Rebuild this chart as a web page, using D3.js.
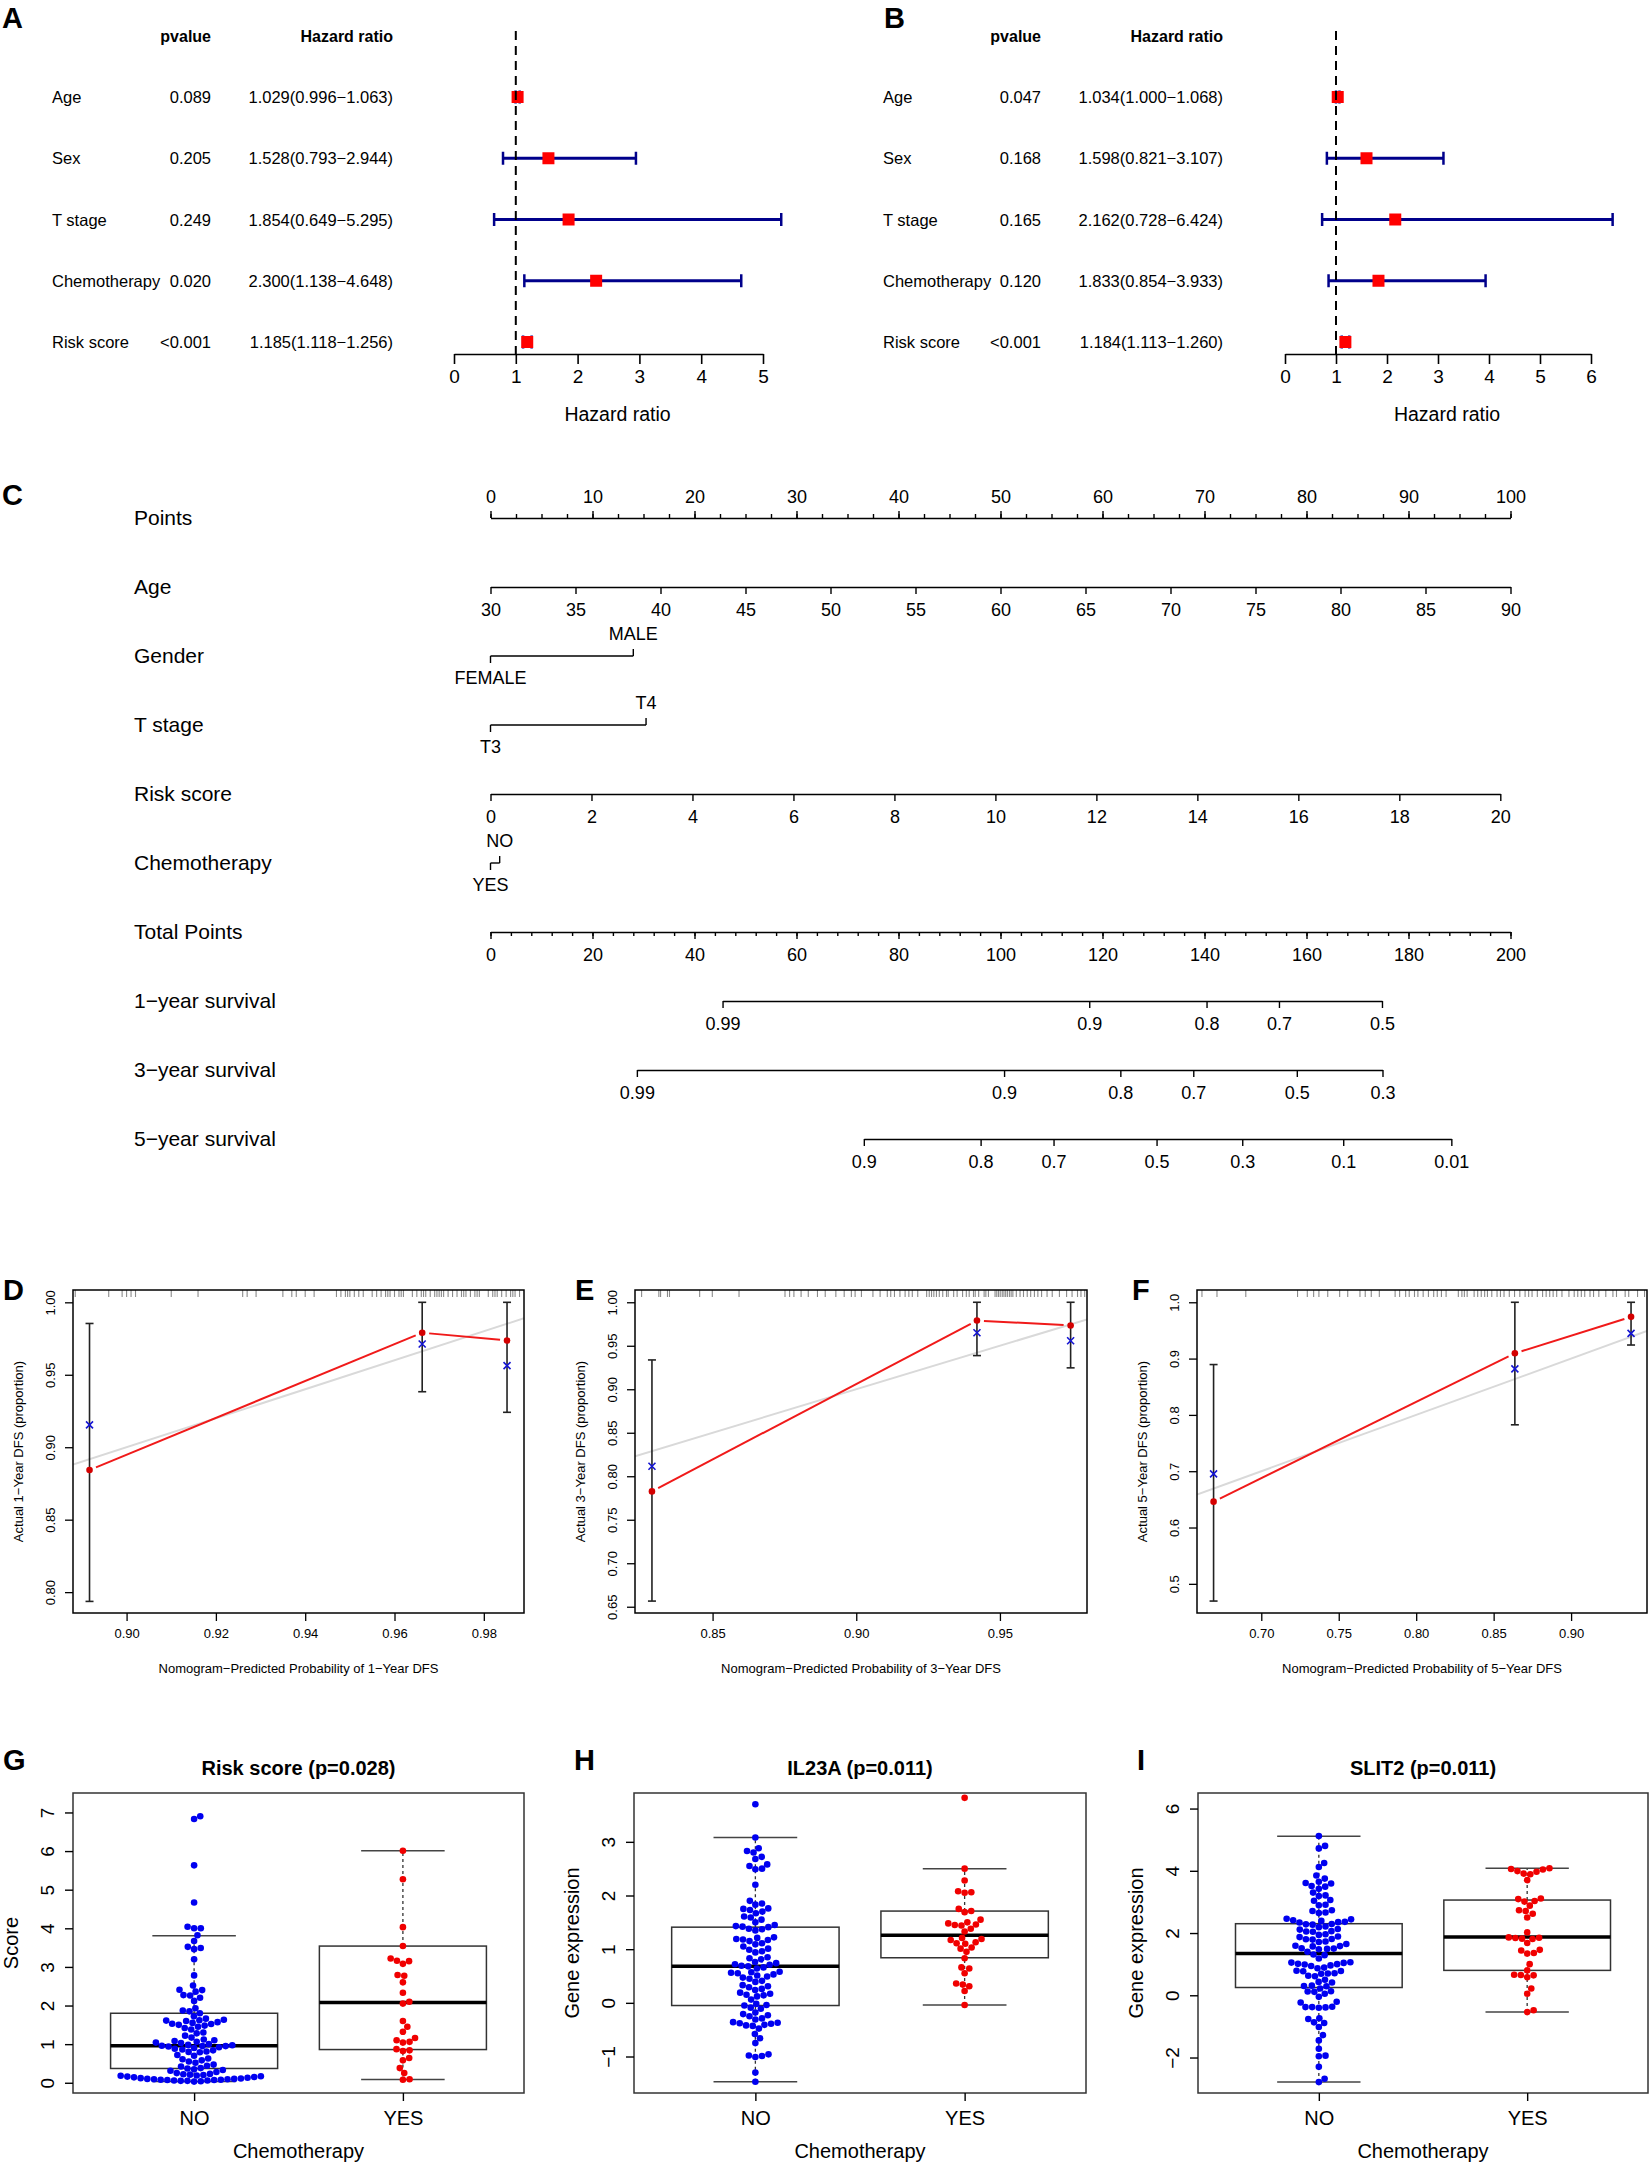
<!DOCTYPE html>
<html>
<head>
<meta charset="utf-8">
<script src="https://cdn.jsdelivr.net/npm/d3@7"></script>
<style>
body { margin: 0; background: #fff; }
svg { display: block; font-family: "Liberation Sans", Arial, Helvetica, sans-serif; }
</style>
</head>
<body>
<svg id="fig" width="1650" height="2169"></svg>
<script>
// ---------- A / B : forest plots ----------
const forestVars = ["Age", "Sex", "T stage", "Chemotherapy", "Risk score"];
const uniP  = ["0.089", "0.205", "0.249", "0.020", "<0.001"];
const uniHR = [1.029, 1.528, 1.854, 2.300, 1.185];
const uniLo = [0.996, 0.793, 0.649, 1.138, 1.118];
const uniHi = [1.063, 2.944, 5.295, 4.648, 1.256];
const multiP  = ["0.047", "0.168", "0.165", "0.120", "<0.001"];
const multiHR = [1.034, 1.598, 2.162, 1.833, 1.184];
const multiLo = [1.000, 0.821, 0.728, 0.854, 1.113];
const multiHi = [1.068, 3.107, 6.424, 3.933, 1.260];

// ---------- C : nomogram ----------
const nomRows = ["Points", "Age", "Gender", "T stage", "Risk score", "Chemotherapy",
  "Total Points", "1\u2212year survival", "3\u2212year survival", "5\u2212year survival"];
const pointTicks = d3.range(0, 101, 10);
const ageTicks = d3.range(30, 91, 5);
const ageRange = [30, 90], agePts = [0, 100];
const riskTicks = d3.range(0, 21, 2);
const riskRange = [0, 20], riskPts = [0, 99.0];
const genderLevels = ["FEMALE", "MALE"], genderPts = [0, 14.0];
const tLevels = ["T3", "T4"], tPts = [0, 15.25];
const chemoLevels = ["YES", "NO"], chemoPts = [0, 0.9];
const totalTicks = d3.range(0, 201, 20);
const surv1Labels = ["0.99", "0.9", "0.8", "0.7", "0.5"];
const surv1Pts = [45.5, 117.4, 140.4, 154.6, 174.8];
const surv3Labels = ["0.99", "0.9", "0.8", "0.7", "0.5", "0.3"];
const surv3Pts = [28.7, 100.7, 123.5, 137.8, 158.1, 174.9];
const surv5Labels = ["0.9", "0.8", "0.7", "0.5", "0.3", "0.1", "0.01"];
const surv5Pts = [73.2, 96.1, 110.4, 130.6, 147.4, 167.2, 188.4];

// ---------- D / E / F : calibration ----------
const cal1Pred = [0.8917, 0.9662, 0.9852];
const cal1Obs  = [0.8843, 0.9790, 0.9737];
const cal1Cor  = [0.9154, 0.9712, 0.9563];
const cal1Lo   = [0.7936, 0.9383, 0.9241];
const cal1Hi   = [0.9854, 1.0, 1.0];
const cal1Rug  = [0.8885,0.896,0.899,0.900,0.901,0.902,0.910,0.916,0.926,0.927,0.929,0.935,0.937,0.938,0.940,0.942,
  0.947,0.948,0.949,0.9495,0.950,0.951,0.952,0.953,0.955,0.956,0.957,0.958,0.9585,0.959,0.960,0.961,0.9615,0.962,
  0.964,0.965,0.966,0.9665,0.967,0.968,0.969,0.9695,0.970,0.9705,0.971,0.972,0.973,0.974,0.975,0.9755,0.976,0.977,
  0.978,0.9785,0.979,0.981,0.982,0.9825,0.983,0.984,0.985,0.986,0.9865,0.987,0.988];
const cal3Pred = [0.8289, 0.9420, 0.9746];
const cal3Obs  = [0.7826, 0.9790, 0.9733];
const cal3Cor  = [0.8115, 0.9650, 0.9558];
const cal3Lo   = [0.6565, 0.9387, 0.9246];
const cal3Hi   = [0.9337, 1.0, 1.0];
const cal3Rug  = [0.8253,0.8313,0.8319,0.8343,0.8350,0.8455,0.8499,0.8592,0.8752,0.8768,0.8783,0.8808,0.8833,0.8865,
  0.8892,0.8929,0.8958,0.8983,0.8996,0.9018,0.9058,0.9083,0.9108,0.9120,0.9133,0.9152,0.9170,0.9183,0.9195,0.9214,
  0.9245,0.9254,0.9262,0.9270,0.9279,0.9289,0.9301,0.9314,0.9320,0.9339,0.9351,0.9370,0.9383,0.9393,0.9408,0.9414,
  0.9426,0.9445,0.9451,0.9460,0.9483,0.9489,0.9495,0.9501,0.9508,0.9514,0.9520,0.9526,0.9533,0.9539,0.9545,0.9557,
  0.9570,0.9582,0.9595,0.9607,0.9620,0.9632,0.9645,0.9664,0.9682,0.9707,0.9732,0.9751,0.9770,0.9782,0.9795];
const cal5Pred = [0.6692, 0.8637, 0.9387];
const cal5Obs  = [0.6459, 0.9094, 0.9741];
const cal5Cor  = [0.6953, 0.8818, 0.9447];
const cal5Lo   = [0.4694, 0.7824, 0.9241];
const cal5Hi   = [0.8894, 1.0, 1.0];
const cal5Rug  = [0.6617,0.6714,0.6900,0.7234,0.7297,0.7338,0.7372,0.7429,0.7506,0.7558,0.7637,0.7671,0.7710,0.7762,
  0.7864,0.7893,0.7932,0.7955,0.7989,0.8011,0.8045,0.8079,0.8113,0.8136,0.8163,0.8193,0.8272,0.8295,0.8311,0.8329,
  0.8374,0.8397,0.8420,0.8442,0.8460,0.8488,0.8522,0.8544,0.8567,0.8601,0.8635,0.8669,0.8703,0.8726,0.8748,0.8782,
  0.8816,0.8839,0.8862,0.8884,0.8907,0.8941,0.8986,0.9020,0.9043,0.9066,0.9088,0.9122,0.9145,0.9179,0.9224,0.9270,
  0.9293,0.9349,0.9372,0.9429,0.9474];

// ---------- G / H / I : box + beeswarm ----------
const groups = ["NO", "YES"];
// stats = [lower whisker, Q1, median, Q3, upper whisker]
const riskNo = [6.90,6.83,5.63,4.67,4.04,4.00,4.00,3.82,3.67,3.52,3.49,3.46,3.20,2.78,2.52,2.41,2.40,2.36,2.27,2.26,
  2.20,2.12,1.93,1.87,1.85,1.80,1.72,1.66,1.63,1.62,1.61,1.60,1.57,1.55,1.53,1.52,1.50,1.48,1.45,1.42,1.38,1.30,1.28,
  1.22,1.17,1.12,1.10,1.08,1.06,1.04,1.03,1.00,0.98,0.97,0.96,0.95,0.95,0.94,0.92,0.90,0.88,0.86,0.84,0.81,0.80,0.79,
  0.72,0.70,0.63,0.61,0.58,0.55,0.52,0.47,0.44,0.42,0.38,0.37,0.35,0.33,0.31,0.28,0.25,0.23,0.22,0.21,0.20,0.19,0.18,
  0.17,0.16,0.15,0.14,0.13,0.12,0.11,0.10,0.10,0.09,0.09,0.08,0.08,0.07,0.07,0.06,0.06,0.05,0.05,0.04,0.03];
const riskYes = [6.01,5.27,4.03,3.54,3.22,3.16,3.15,3.08,2.79,2.77,2.60,2.33,2.10,2.05,1.60,1.45,1.32,1.16,1.10,1.06,
  1.04,0.87,0.84,0.82,0.64,0.58,0.38,0.25,0.09,0.08];
const riskNoStats = [0.03, 0.37, 0.96, 1.80, 3.81];
const riskYesStats = [0.085, 0.86, 2.08, 3.54, 6.01];

const il23No = [3.70,3.08,2.88,2.83,2.80,2.72,2.68,2.58,2.55,2.50,2.49,2.20,1.90,1.85,1.83,1.76,1.75,1.73,1.70,1.67,
  1.61,1.59,1.55,1.50,1.45,1.43,1.42,1.41,1.38,1.37,1.35,1.22,1.21,1.19,1.18,1.17,1.15,1.11,1.09,1.05,1.01,0.99,0.96,
  0.94,0.85,0.83,0.81,0.76,0.74,0.72,0.71,0.69,0.68,0.66,0.64,0.58,0.57,0.56,0.55,0.53,0.51,0.49,0.47,0.45,0.41,0.39,
  0.33,0.31,0.29,0.26,0.24,0.19,0.17,0.15,0.14,0.12,0.06,-0.02,-0.04,-0.05,-0.09,-0.11,-0.18,-0.21,-0.23,-0.25,-0.29,
  -0.31,-0.36,-0.37,-0.38,-0.39,-0.41,-0.42,-0.43,-0.48,-0.58,-0.66,-0.75,-0.96,-0.98,-0.99,-1.01,-1.30,-1.47];
const il23Yes = [3.82,2.50,2.28,2.08,2.06,2.05,1.75,1.71,1.69,1.55,1.50,1.48,1.46,1.45,1.44,1.38,1.33,1.21,1.19,1.17,
  1.13,1.11,1.10,1.03,1.01,0.95,0.83,0.66,0.64,0.55,0.36,0.34,0.31,0.22,-0.04];
const il23NoStats = [-1.47, -0.05, 0.68, 1.41, 3.08];
const il23YesStats = [-0.04, 0.84, 1.26, 1.71, 2.50];

const slitNo = [5.12,4.80,4.72,4.25,4.12,3.85,3.75,3.65,3.61,3.59,3.51,3.49,3.42,3.30,3.21,3.19,3.06,3.04,2.91,2.89,
  2.73,2.71,2.66,2.64,2.46,2.44,2.41,2.39,2.36,2.35,2.34,2.29,2.28,2.27,2.21,2.19,2.13,2.11,2.06,2.05,2.04,1.96,1.94,
  1.89,1.87,1.81,1.80,1.79,1.73,1.71,1.65,1.59,1.58,1.57,1.51,1.50,1.49,1.48,1.40,1.31,1.29,1.18,1.06,1.05,1.04,1.01,
  1.00,0.99,0.96,0.94,0.89,0.87,0.79,0.78,0.77,0.71,0.70,0.69,0.63,0.61,0.50,0.43,0.41,0.31,0.30,0.29,0.22,0.13,0.12,
  0.11,0.05,-0.05,-0.21,-0.23,-0.37,-0.38,-0.38,-0.39,-0.40,-0.74,-0.76,-0.87,-0.89,-1.02,-1.28,-1.45,-1.72,-1.94,
  -1.96,-2.30,-2.68,-2.79];
const slitYes = [4.08,4.06,4.04,3.99,3.97,3.91,3.89,3.70,3.11,3.09,3.03,3.01,2.88,2.73,2.71,2.62,2.50,2.02,1.86,1.85,
  1.84,1.82,1.81,1.68,1.46,1.44,1.36,1.34,1.00,0.80,0.66,0.65,0.64,0.58,0.22,0.05,-0.48,-0.54];
const slitNoStats = [-2.79, 0.25, 1.34, 2.30, 5.11];
const slitYesStats = [-0.54, 0.80, 1.87, 3.06, 4.08];

// ================= drawing =================
const svg = d3.select("#fig");
svg.append("rect").attr("width", 1650).attr("height", 2169).attr("fill", "#fff");
const MINUS = "\u2212";

function letter(x, y, t) {
  svg.append("text").attr("x", x).attr("y", y).attr("font-size", 29)
    .attr("font-weight", "bold").text(t);
}

function styleAxis(sel, fs, sw) {
  sel.attr("font-size", fs).attr("font-family", null);
  sel.selectAll("line,path").attr("stroke", "#000").attr("stroke-width", sw || 1.4);
  sel.selectAll("text").attr("fill", "#000");
  return sel;
}

// ---- forest ----
function forest(c) {
  const g = svg.append("g");
  const x = d3.scaleLinear().domain([0, c.max]).range(c.range);
  const y = d3.scalePoint().domain(forestVars).range([97, 342]);
  const f3 = d3.format(".3f");
  letter(c.lx, 28, c.letter);

  g.append("text").attr("x", c.pR).attr("y", 36).attr("text-anchor", "end")
    .attr("dominant-baseline", "central").attr("font-size", 16).attr("font-weight", "bold").text("pvalue");
  g.append("text").attr("x", c.hrR).attr("y", 36).attr("text-anchor", "end")
    .attr("dominant-baseline", "central").attr("font-size", 16).attr("font-weight", "bold").text("Hazard ratio");

  const rows = g.selectAll("g.row")
    .data(forestVars.map((v, i) => ({ v, p: c.p[i], hr: c.hr[i], lo: c.lo[i], hi: c.hi[i] })))
    .join("g").attr("class", "row").attr("transform", d => `translate(0,${y(d.v)})`);
  rows.append("text").attr("x", c.labX).attr("dominant-baseline", "central").attr("font-size", 16.5).text(d => d.v);
  rows.append("text").attr("x", c.pR).attr("text-anchor", "end").attr("dominant-baseline", "central")
    .attr("font-size", 16.5).text(d => d.p);
  rows.append("text").attr("x", c.hrR).attr("text-anchor", "end").attr("dominant-baseline", "central")
    .attr("font-size", 16.5).text(d => `${f3(d.hr)}(${f3(d.lo)}${MINUS}${f3(d.hi)})`);

  g.append("line").attr("x1", x(1)).attr("x2", x(1)).attr("y1", 31).attr("y2", 354)
    .attr("stroke", "#000").attr("stroke-width", 2).attr("stroke-dasharray", "9,6");

  rows.append("line").attr("x1", d => x(d.lo)).attr("x2", d => x(d.hi))
    .attr("stroke", "#00008b").attr("stroke-width", 3);
  ["lo", "hi"].forEach(k => {
    rows.append("line").attr("x1", d => x(d[k])).attr("x2", d => x(d[k])).attr("y1", -6.5).attr("y2", 6.5)
      .attr("stroke", "#00008b").attr("stroke-width", 2.5);
  });
  rows.append("rect").attr("x", d => x(d.hr) - 6).attr("y", -6).attr("width", 12).attr("height", 12)
    .attr("fill", "#ff0000");

  const ax = g.append("g").attr("transform", "translate(0,354)")
    .call(d3.axisBottom(x).tickValues(d3.range(0, c.max + 1)).tickSize(10).tickSizeOuter(0)
      .tickPadding(6).tickFormat(d3.format("d")));
  styleAxis(ax, 19, 1.6);
  g.append("text").attr("x", (c.range[0] + c.range[1]) / 2 + 9).attr("y", 414)
    .attr("text-anchor", "middle").attr("dominant-baseline", "central").attr("font-size", 19.5).text("Hazard ratio");
}

forest({ letter: "A", lx: 2, labX: 52, pR: 211, hrR: 393, max: 5, range: [454, 763],
  p: uniP, hr: uniHR, lo: uniLo, hi: uniHi });
forest({ letter: "B", lx: 884, labX: 883, pR: 1041, hrR: 1223, max: 6, range: [1285, 1591],
  p: multiP, hr: multiHR, lo: multiLo, hi: multiHi });

// ---- nomogram ----
(function () {
  const g = svg.append("g");
  letter(2, 505, "C");
  const rowY = d3.scalePoint().domain(nomRows).range([518, 1139]);
  const nomX = d3.scaleLinear().domain([0, 100]).range([490.5, 1510.5]);
  const totX = d3.scaleLinear().domain([0, 200]).range([490.5, 1510.5]);

  g.selectAll("text.rl").data(nomRows).join("text").attr("class", "rl")
    .attr("x", 134).attr("y", d => rowY(d) - 1).attr("dominant-baseline", "central")
    .attr("font-size", 21).text(d => d);

  const at = (name) => g.append("g").attr("transform", `translate(0,${rowY(name)})`);

  // Points
  styleAxis(at("Points").call(d3.axisTop(nomX).tickValues(pointTicks).tickSize(7).tickSizeOuter(0).tickPadding(8)), 18);
  styleAxis(at("Points").call(d3.axisTop(nomX).tickValues(d3.range(0, 100.1, 2.5)).tickSize(4).tickFormat("")), 18)
    .select(".domain").remove();

  // Age
  const ageX = d3.scaleLinear().domain(ageRange).range(agePts.map(nomX));
  styleAxis(at("Age").call(d3.axisBottom(ageX).tickValues(ageTicks).tickSize(7).tickSizeOuter(0).tickPadding(9)), 18);

  // categorical rows: first level tick down / label below, second tick up / label above
  function cat(name, levels, pts) {
    const r = at(name);
    r.append("line").attr("x1", nomX(d3.min(pts))).attr("x2", nomX(d3.max(pts)))
      .attr("stroke", "#000").attr("stroke-width", 1.4);
    levels.forEach((lv, i) => {
      const dir = i === 0 ? 1 : -1;
      r.append("line").attr("x1", nomX(pts[i])).attr("x2", nomX(pts[i])).attr("y1", 0).attr("y2", dir * 7)
        .attr("stroke", "#000").attr("stroke-width", 1.4);
      r.append("text").attr("x", nomX(pts[i])).attr("y", dir * 22).attr("text-anchor", "middle")
        .attr("dominant-baseline", "central").attr("font-size", 18).text(lv);
    });
  }
  cat("Gender", genderLevels, genderPts);
  cat("T stage", tLevels, tPts);
  cat("Chemotherapy", chemoLevels, chemoPts);

  // Risk score
  const riskX = d3.scaleLinear().domain(riskRange).range(riskPts.map(nomX));
  styleAxis(at("Risk score").call(d3.axisBottom(riskX).tickValues(riskTicks).tickSize(7).tickSizeOuter(0).tickPadding(9)), 18);

  // Total points
  styleAxis(at("Total Points").call(d3.axisBottom(totX).tickValues(totalTicks).tickSize(7).tickSizeOuter(0).tickPadding(9)), 18);
  styleAxis(at("Total Points").call(d3.axisBottom(totX).tickValues(d3.range(0, 200.1, 4)).tickSize(4).tickFormat("")), 18)
    .select(".domain").remove();

  // survival rows
  function surv(name, labels, pts) {
    const ext = d3.extent(pts);
    const s = d3.scaleLinear().domain(ext).range(ext.map(totX));
    styleAxis(at(name).call(d3.axisBottom(s).tickValues(pts).tickSize(7).tickSizeOuter(0).tickPadding(9)
      .tickFormat((d, i) => labels[i])), 18);
  }
  surv("1\u2212year survival", surv1Labels, surv1Pts);
  surv("3\u2212year survival", surv3Labels, surv3Pts);
  surv("5\u2212year survival", surv5Labels, surv5Pts);
})();

// ---- calibration ----
let clipN = 0;
function calib(c) {
  const g = svg.append("g");
  const x = d3.scaleLinear().domain(c.xDom).range([c.L, c.R]);
  const y = d3.scaleLinear().domain(c.yDom).range([c.B, c.T]);
  const id = "clip" + (clipN++);
  svg.append("clipPath").attr("id", id).append("rect")
    .attr("x", c.L).attr("y", c.T).attr("width", c.R - c.L).attr("height", c.B - c.T);
  letter(c.lx, 1300, c.letter);

  g.append("line").attr("clip-path", `url(#${id})`)
    .attr("x1", x(c.xDom[0])).attr("y1", y(c.xDom[0])).attr("x2", x(c.xDom[1])).attr("y2", y(c.xDom[1]))
    .attr("stroke", "#d9d9d9").attr("stroke-width", 2);

  g.selectAll("line.rug").data(c.rug).join("line").attr("class", "rug")
    .attr("x1", d => x(d)).attr("x2", d => x(d)).attr("y1", c.T).attr("y2", c.T + 7)
    .attr("stroke", "#8a8a8a").attr("stroke-width", 1.1);

  const pts = c.pred.map((p, i) => ({ px: x(p), py: y(c.obs[i]), cy: y(c.cor[i]), lo: y(c.lo[i]), hi: y(c.hi[i]) }));
  // error bars
  pts.forEach(p => {
    g.append("line").attr("x1", p.px).attr("x2", p.px).attr("y1", p.lo).attr("y2", p.hi)
      .attr("stroke", "#222").attr("stroke-width", 1.6);
    [p.lo, p.hi].forEach(v => g.append("line").attr("x1", p.px - 4).attr("x2", p.px + 4).attr("y1", v).attr("y2", v)
      .attr("stroke", "#222").attr("stroke-width", 1.6));
  });
  // red line with gaps around points
  d3.pairs(pts).forEach(([a, b]) => {
    const dx = b.px - a.px, dy = b.py - a.py, len = Math.hypot(dx, dy), gap = 7;
    g.append("line").attr("x1", a.px + dx / len * gap).attr("y1", a.py + dy / len * gap)
      .attr("x2", b.px - dx / len * gap).attr("y2", b.py - dy / len * gap)
      .attr("stroke", "#f01a1a").attr("stroke-width", 2);
  });
  g.selectAll("circle.obs").data(pts).join("circle").attr("class", "obs")
    .attr("cx", d => d.px).attr("cy", d => d.py).attr("r", 3.3).attr("fill", "#d40000");
  g.selectAll("path.cor").data(pts).join("path").attr("class", "cor")
    .attr("transform", d => `translate(${d.px},${d.cy})`)
    .attr("d", "M-3.5,-3.5L3.5,3.5M-3.5,3.5L3.5,-3.5").attr("stroke", "#1414d2").attr("stroke-width", 1.6);

  g.append("rect").attr("x", c.L).attr("y", c.T).attr("width", c.R - c.L).attr("height", c.B - c.T)
    .attr("fill", "none").attr("stroke", "#000").attr("stroke-width", 1.5);

  const xa = g.append("g").attr("transform", `translate(0,${c.B})`)
    .call(d3.axisBottom(x).tickValues(c.xTicks).tickSize(8).tickPadding(8).tickFormat(d3.format(".2f")));
  styleAxis(xa, 13, 1.3).select(".domain").remove();
  const ya = g.append("g").attr("transform", `translate(${c.L},0)`)
    .call(d3.axisLeft(y).tickValues(c.yTicks).tickSize(8).tickFormat(d3.format(c.yFmt)));
  styleAxis(ya, 13, 1.3).select(".domain").remove();
  ya.selectAll("text").attr("x", null).attr("dy", null).attr("text-anchor", "middle")
    .attr("dominant-baseline", "central").attr("transform", "translate(-23,0) rotate(-90)");

  g.append("text").attr("x", (c.L + c.R) / 2).attr("y", c.B + 55).attr("text-anchor", "middle")
    .attr("dominant-baseline", "central").attr("font-size", 13).text(c.xlab);
  g.append("text").attr("transform", `translate(${c.L - 55},${(c.T + c.B) / 2}) rotate(-90)`)
    .attr("text-anchor", "middle").attr("dominant-baseline", "central").attr("font-size", 13).text(c.ylab);
}

calib({ letter: "D", lx: 3, L: 73, R: 524, T: 1290, B: 1613, xDom: [0.888, 0.989], yDom: [0.7856, 1.0085],
  xTicks: [0.90, 0.92, 0.94, 0.96, 0.98], yTicks: [0.80, 0.85, 0.90, 0.95, 1.00], yFmt: ".2f",
  pred: cal1Pred, obs: cal1Obs, cor: cal1Cor, lo: cal1Lo, hi: cal1Hi, rug: cal1Rug,
  xlab: `Nomogram${MINUS}Predicted Probability of 1${MINUS}Year DFS`, ylab: `Actual 1${MINUS}Year DFS (proportion)` });
calib({ letter: "E", lx: 575, L: 635, R: 1087, T: 1290, B: 1613, xDom: [0.823, 0.9803], yDom: [0.6428, 1.0141],
  xTicks: [0.85, 0.90, 0.95], yTicks: d3.range(0.65, 1.001, 0.05), yFmt: ".2f",
  pred: cal3Pred, obs: cal3Obs, cor: cal3Cor, lo: cal3Lo, hi: cal3Hi, rug: cal3Rug,
  xlab: `Nomogram${MINUS}Predicted Probability of 3${MINUS}Year DFS`, ylab: `Actual 3${MINUS}Year DFS (proportion)` });
calib({ letter: "F", lx: 1132, L: 1197, R: 1647, T: 1290, B: 1613, xDom: [0.6585, 0.949], yDom: [0.4482, 1.0218],
  xTicks: [0.70, 0.75, 0.80, 0.85, 0.90], yTicks: [0.5, 0.6, 0.7, 0.8, 0.9, 1.0], yFmt: ".1f",
  pred: cal5Pred, obs: cal5Obs, cor: cal5Cor, lo: cal5Lo, hi: cal5Hi, rug: cal5Rug,
  xlab: `Nomogram${MINUS}Predicted Probability of 5${MINUS}Year DFS`, ylab: `Actual 5${MINUS}Year DFS (proportion)` });

// ---- box + beeswarm ----
function swarm(vals, y, d) {
  const pts = vals.map(v => ({ v, py: y(v), dx: 0 })).sort((a, b) => a.v - b.v);
  const placed = [];
  pts.forEach(p => {
    const near = placed.filter(q => Math.abs(q.py - p.py) < d);
    const cands = [0];
    near.forEach(q => {
      const off = Math.sqrt(d * d - (q.py - p.py) ** 2);
      cands.push(q.dx + off, q.dx - off);
    });
    cands.sort((a, b) => Math.abs(a) - Math.abs(b));
    for (const cx of cands) {
      if (near.every(q => (q.dx - cx) ** 2 + (q.py - p.py) ** 2 >= d * d - 0.01)) { p.dx = cx; break; }
    }
    placed.push(p);
  });
  return placed;
}

function boxPanel(c) {
  const g = svg.append("g");
  const x = d3.scalePoint().domain(groups).range([c.L, c.R]).padding(0.58);
  const step = x.step();
  const y = d3.scaleLinear().domain(c.yDom).range([c.B, c.T]);
  letter(c.lx, 1770, c.letter);

  const sets = [
    { k: "NO", v: c.no, s: c.noStats, col: "#0000f0" },
    { k: "YES", v: c.yes, s: c.yesStats, col: "#f00000" }
  ];
  sets.forEach(d => {
    const cx = x(d.k), s = d.s;
    [[s[0], s[1]], [s[3], s[4]]].forEach(([a, b]) =>
      g.append("line").attr("x1", cx).attr("x2", cx).attr("y1", y(a)).attr("y2", y(b))
        .attr("stroke", "#333").attr("stroke-width", 1.3).attr("stroke-dasharray", "3,3"));
    [s[0], s[4]].forEach(v =>
      g.append("line").attr("x1", cx - 0.2 * step).attr("x2", cx + 0.2 * step).attr("y1", y(v)).attr("y2", y(v))
        .attr("stroke", "#444").attr("stroke-width", 1.5));
    g.append("rect").attr("x", cx - 0.4 * step).attr("width", 0.8 * step)
      .attr("y", y(s[3])).attr("height", y(s[1]) - y(s[3]))
      .attr("fill", "#fff").attr("stroke", "#333").attr("stroke-width", 1.5);
    g.append("line").attr("x1", cx - 0.4 * step).attr("x2", cx + 0.4 * step).attr("y1", y(s[2])).attr("y2", y(s[2]))
      .attr("stroke", "#000").attr("stroke-width", 3.5);
  });
  sets.forEach(d => {
    const cx = x(d.k);
    g.selectAll(null).data(swarm(d.v, y, 6.7)).join("circle")
      .attr("cx", p => cx + p.dx).attr("cy", p => p.py).attr("r", 3.3).attr("fill", d.col);
  });

  g.append("rect").attr("x", c.L).attr("y", c.T).attr("width", c.R - c.L).attr("height", c.B - c.T)
    .attr("fill", "none").attr("stroke", "#333").attr("stroke-width", 1.5);

  const xa = g.append("g").attr("transform", `translate(0,${c.B})`)
    .call(d3.axisBottom(x).tickSize(8).tickPadding(10));
  styleAxis(xa, 20, 1.4).select(".domain").remove();
  const ya = g.append("g").attr("transform", `translate(${c.L},0)`)
    .call(d3.axisLeft(y).tickValues(c.yTicks).tickSize(8).tickFormat(d3.format("d")));
  styleAxis(ya, 19, 1.4).select(".domain").remove();
  ya.selectAll("text").attr("x", null).attr("dy", null).attr("text-anchor", "middle")
    .attr("dominant-baseline", "central").attr("transform", "translate(-26,0) rotate(-90)");

  g.append("text").attr("x", (c.L + c.R) / 2).attr("y", c.T - 25).attr("text-anchor", "middle")
    .attr("dominant-baseline", "central").attr("font-size", 20).attr("font-weight", "bold").text(c.title);
  g.append("text").attr("x", (c.L + c.R) / 2).attr("y", c.B + 58).attr("text-anchor", "middle")
    .attr("dominant-baseline", "central").attr("font-size", 20).text("Chemotherapy");
  g.append("text").attr("transform", `translate(${c.L - 62},${(c.T + c.B) / 2}) rotate(-90)`)
    .attr("text-anchor", "middle").attr("dominant-baseline", "central").attr("font-size", 20).text(c.ylab);
}

boxPanel({ letter: "G", lx: 3, L: 73, R: 524, T: 1793, B: 2093, yDom: [-0.265, 7.504], yTicks: d3.range(0, 8),
  title: "Risk score (p=0.028)", ylab: "Score", no: riskNo, yes: riskYes, noStats: riskNoStats, yesStats: riskYesStats });
boxPanel({ letter: "H", lx: 574, L: 634, R: 1086, T: 1793, B: 2093, yDom: [-1.68, 3.91], yTicks: d3.range(-1, 4),
  title: "IL23A (p=0.011)", ylab: "Gene expression", no: il23No, yes: il23Yes, noStats: il23NoStats, yesStats: il23YesStats });
boxPanel({ letter: "I", lx: 1137, L: 1198, R: 1648, T: 1793, B: 2093, yDom: [-3.14, 6.50], yTicks: [-2, 0, 2, 4, 6],
  title: "SLIT2 (p=0.011)", ylab: "Gene expression", no: slitNo, yes: slitYes, noStats: slitNoStats, yesStats: slitYesStats });
</script>
</body>
</html>
